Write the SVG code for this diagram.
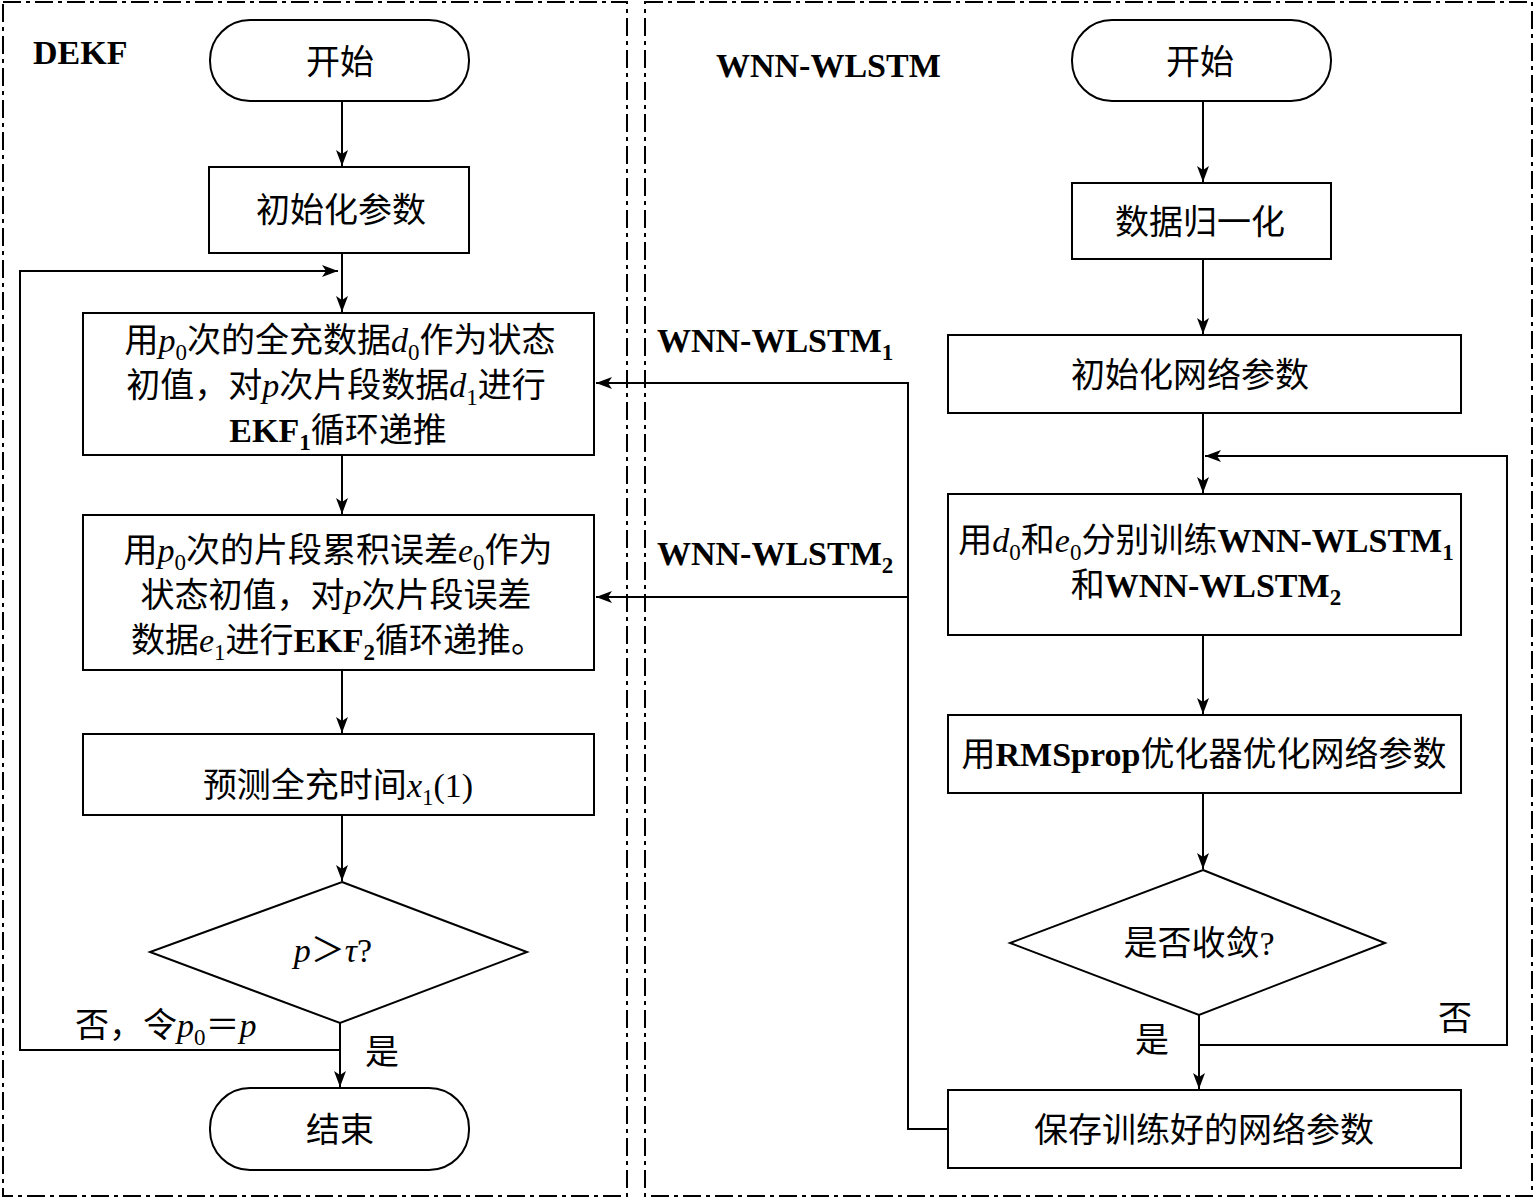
<svg xmlns="http://www.w3.org/2000/svg" width="1536" height="1200" viewBox="0 0 1536 1200">
<style>
.t{font-family:"Liberation Serif","Noto Sans CJK SC",serif;font-size:34px;fill:#000}
.m{text-anchor:middle}
.b{font-weight:bold}
.i{font-style:italic}
.s{font-size:23px}
.shape{fill:#fff;stroke:#000;stroke-width:2}
.ln{fill:none;stroke:#000;stroke-width:2}
.frame{fill:none;stroke:#000;stroke-width:2;stroke-dasharray:18 5 4 5}
</style>
<defs>
<marker id="ah" markerUnits="userSpaceOnUse" markerWidth="16" markerHeight="12" refX="16" refY="6" orient="auto">
<path d="M0,0 L16,6 L0,12 L4,6 Z" fill="#000"/>
</marker>
</defs>
<rect width="1536" height="1200" fill="#fff"/>
<g id="frames">
<rect class="frame" x="3" y="2" width="624" height="1194"/>
<rect class="frame" x="645" y="2" width="887" height="1194"/>
</g>
<g id="connectors">
<line class="ln" x1="342" y1="101" x2="342" y2="166" marker-end="url(#ah)"/>
<line class="ln" x1="342" y1="253" x2="342" y2="312" marker-end="url(#ah)"/>
<polyline class="ln" points="340,1050 20,1050 20,271 338,271" marker-end="url(#ah)"/>
<line class="ln" x1="342" y1="455" x2="342" y2="514" marker-end="url(#ah)"/>
<line class="ln" x1="342" y1="670" x2="342" y2="733" marker-end="url(#ah)"/>
<line class="ln" x1="342" y1="815" x2="342" y2="881" marker-end="url(#ah)"/>
<line class="ln" x1="340" y1="1023" x2="340" y2="1087" marker-end="url(#ah)"/>
<line class="ln" x1="1203" y1="101" x2="1203" y2="182" marker-end="url(#ah)"/>
<line class="ln" x1="1203" y1="259" x2="1203" y2="334" marker-end="url(#ah)"/>
<line class="ln" x1="1203" y1="413" x2="1203" y2="493" marker-end="url(#ah)"/>
<polyline class="ln" points="1199,1045 1507,1045 1507,456 1205,456" marker-end="url(#ah)"/>
<line class="ln" x1="1203" y1="635" x2="1203" y2="714" marker-end="url(#ah)"/>
<line class="ln" x1="1203" y1="793" x2="1203" y2="869" marker-end="url(#ah)"/>
<line class="ln" x1="1199" y1="1015" x2="1199" y2="1089" marker-end="url(#ah)"/>
<polyline class="ln" points="948,1129 908,1129 908,383 596,383" marker-end="url(#ah)"/>
<line class="ln" x1="908" y1="597" x2="596" y2="597" marker-end="url(#ah)"/>
</g>
<g id="labels">
<text class="t b" x="33" y="64">DEKF</text>
<text class="t b" x="716" y="77">WNN-WLSTM</text>
<text class="t b" x="657" y="352">WNN-WLSTM<tspan class="s" dy="8">1</tspan></text>
<text class="t b" x="657" y="565">WNN-WLSTM<tspan class="s" dy="8">2</tspan></text>
<text class="t" x="75" y="1037">否，令<tspan class="i">p</tspan><tspan class="s" dy="8">0</tspan><tspan dy="-8">＝</tspan><tspan class="i">p</tspan></text>
<text class="t" x="365" y="1064">是</text>
<text class="t" x="1135" y="1052">是</text>
<text class="t" x="1438" y="1030">否</text>
</g>
<g id="start-left">
<rect class="shape" x="210" y="20" width="259" height="81" rx="40" ry="40"/>
<text class="t m" x="340" y="74">开始</text>
</g>
<g id="init-params">
<rect class="shape" x="209" y="167" width="260" height="86"/>
<text class="t m" x="341" y="222">初始化参数</text>
</g>
<g id="ekf1">
<rect class="shape" x="83" y="313" width="511" height="142"/>
<text class="t m" x="340" y="352">用<tspan class="i">p</tspan><tspan class="s" dy="8">0</tspan><tspan dy="-8">次的全充数据</tspan><tspan class="i">d</tspan><tspan class="s" dy="8">0</tspan><tspan dy="-8">作为状态</tspan></text>
<text class="t m" x="336" y="397">初值，对<tspan class="i">p</tspan>次片段数据<tspan class="i">d</tspan><tspan class="s" dy="8">1</tspan><tspan dy="-8">进行</tspan></text>
<text class="t m" x="338" y="442"><tspan class="b">EKF</tspan><tspan class="s b" dy="8">1</tspan><tspan dy="-8">循环递推</tspan></text>
</g>
<g id="ekf2">
<rect class="shape" x="83" y="515" width="511" height="155"/>
<text class="t m" x="338" y="562">用<tspan class="i">p</tspan><tspan class="s" dy="8">0</tspan><tspan dy="-8">次的片段累积误差</tspan><tspan class="i">e</tspan><tspan class="s" dy="8">0</tspan><tspan dy="-8">作为</tspan></text>
<text class="t m" x="336" y="607">状态初值，对<tspan class="i">p</tspan>次片段误差</text>
<text class="t m" x="338" y="652">数据<tspan class="i">e</tspan><tspan class="s" dy="8">1</tspan><tspan dy="-8">进行</tspan><tspan class="b">EKF</tspan><tspan class="s b" dy="8">2</tspan><tspan dy="-8">循环递推。</tspan></text>
</g>
<g id="predict">
<rect class="shape" x="83" y="734" width="511" height="81"/>
<text class="t m" x="338" y="797">预测全充时间<tspan class="i">x</tspan><tspan class="s" dy="8">1</tspan><tspan dy="-8">(1)</tspan></text>
</g>
<g id="decision-left">
<polygon class="shape" points="342,882 527,952 340,1023 150,952"/>
<text class="t m" x="333" y="962"><tspan class="i">p</tspan>＞<tspan class="i">τ</tspan>?</text>
</g>
<g id="end-left">
<rect class="shape" x="210" y="1088" width="259" height="82" rx="40" ry="40"/>
<text class="t m" x="340" y="1142">结束</text>
</g>
<g id="start-right">
<rect class="shape" x="1072" y="20" width="259" height="81" rx="40" ry="40"/>
<text class="t m" x="1200" y="74">开始</text>
</g>
<g id="normalize">
<rect class="shape" x="1072" y="183" width="259" height="76"/>
<text class="t m" x="1200" y="234">数据归一化</text>
</g>
<g id="init-net">
<rect class="shape" x="948" y="335" width="513" height="78"/>
<text class="t m" x="1190" y="387">初始化网络参数</text>
</g>
<g id="train">
<rect class="shape" x="948" y="494" width="513" height="141"/>
<text class="t m" x="1206" y="552">用<tspan class="i">d</tspan><tspan class="s" dy="8">0</tspan><tspan dy="-8">和</tspan><tspan class="i">e</tspan><tspan class="s" dy="8">0</tspan><tspan dy="-8">分别训练</tspan><tspan class="b">WNN-WLSTM</tspan><tspan class="s b" dy="8">1</tspan></text>
<text class="t m" x="1206" y="597">和<tspan class="b">WNN-WLSTM</tspan><tspan class="s b" dy="8">2</tspan></text>
</g>
<g id="optimize">
<rect class="shape" x="948" y="715" width="513" height="78"/>
<text class="t m" x="1204" y="766">用<tspan class="b">RMSprop</tspan>优化器优化网络参数</text>
</g>
<g id="decision-right">
<polygon class="shape" points="1203,870 1385,943 1199,1015 1010,943"/>
<text class="t m" x="1199" y="955">是否收敛?</text>
</g>
<g id="save">
<rect class="shape" x="948" y="1090" width="513" height="78"/>
<text class="t m" x="1204" y="1142">保存训练好的网络参数</text>
</g>
</svg>
